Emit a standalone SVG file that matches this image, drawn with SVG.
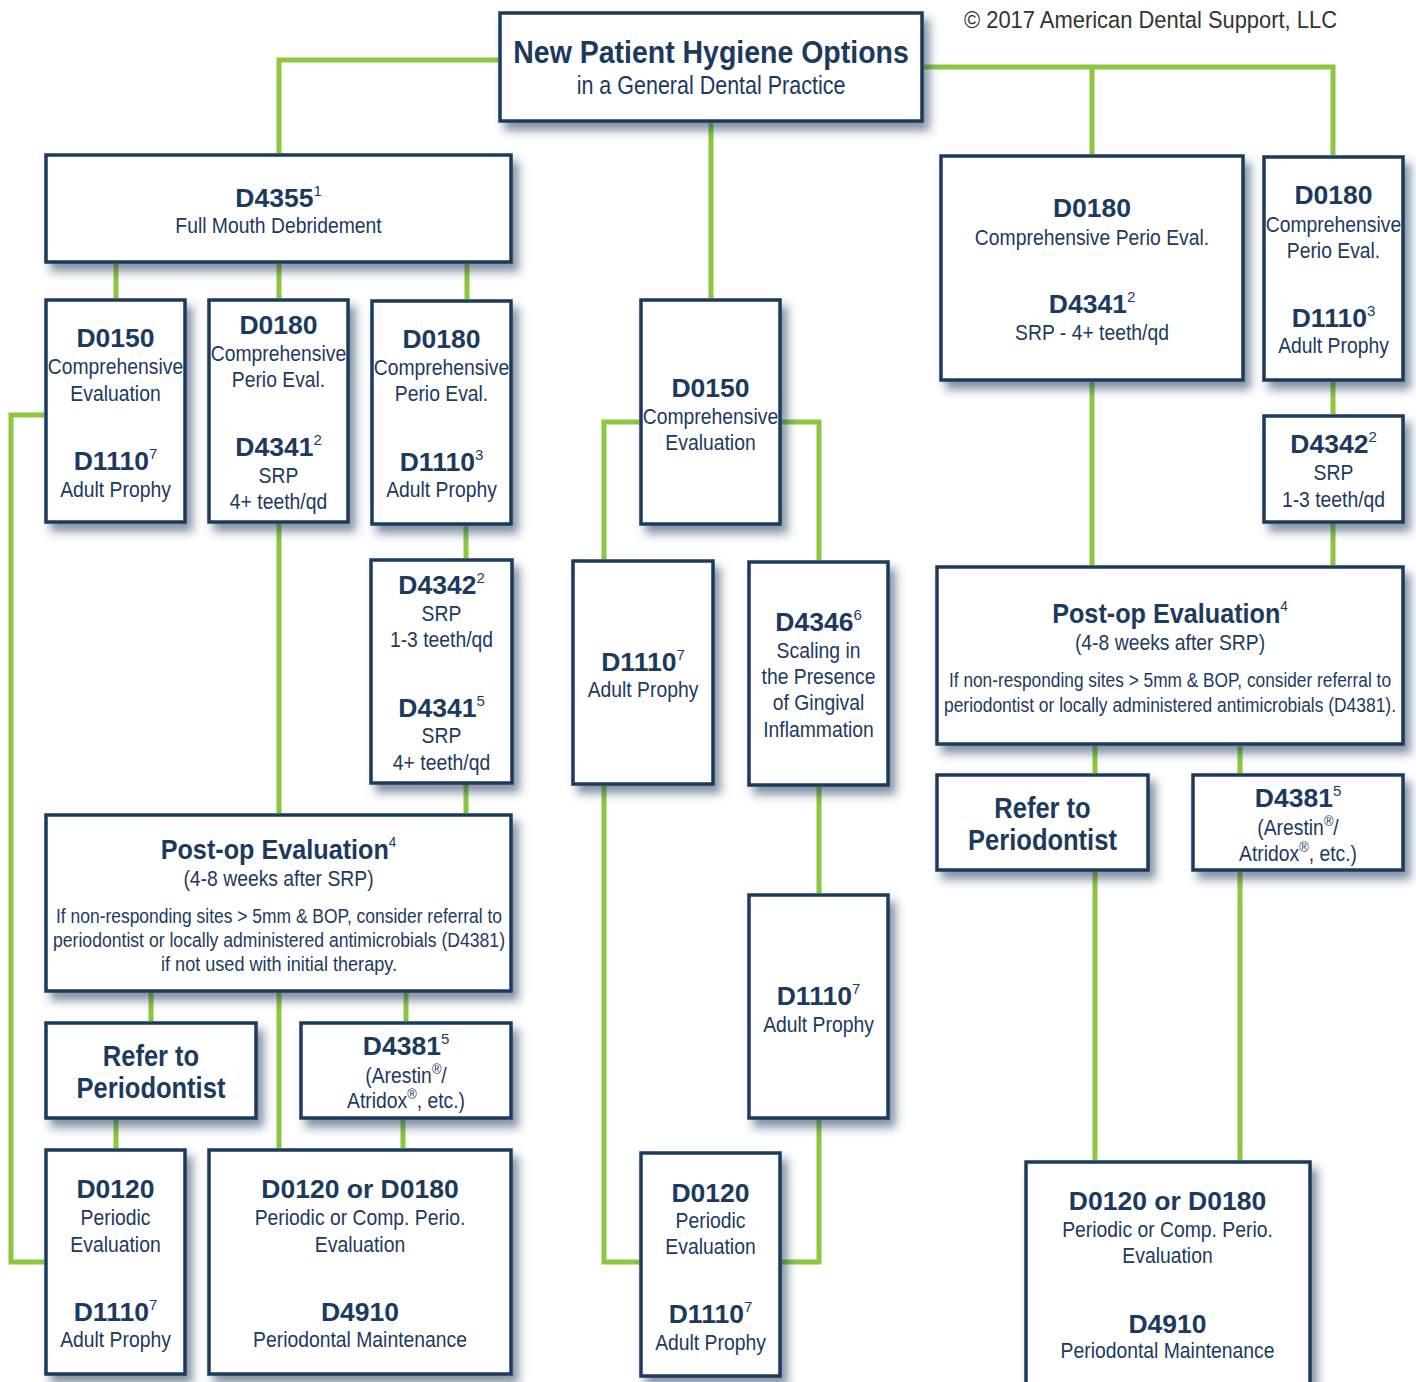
<svg xmlns="http://www.w3.org/2000/svg" width="1416" height="1382" viewBox="0 0 1416 1382">
<defs>
<filter id="sh" x="-20%" y="-20%" width="150%" height="150%">
<feDropShadow dx="6" dy="8" stdDeviation="5" flood-color="#1d3a5c" flood-opacity="0.55"/>
</filter>
<style>
.box{fill:#fff;stroke:#1d3a5c;stroke-width:3.5;filter:url(#sh)}
.con{fill:none;stroke:#8dc63f;stroke-width:5}
text{font-family:"Liberation Sans",Arial,sans-serif;fill:#1c3a5e;text-anchor:middle}
.c{font-weight:bold;font-size:26.5px}
.r{font-size:22.5px}
.h{font-weight:bold;font-size:28px}
.rf{font-weight:bold;font-size:29px}
.bd{font-size:20.5px}
.s{font-size:15px;font-weight:normal}
</style>
</defs>
<rect width="1416" height="1382" fill="#fff"/>
<text x="964" y="28" style="text-anchor:start;font-size:24.5px;fill:#333" textLength="373" lengthAdjust="spacingAndGlyphs">© 2017 American Dental Support, LLC</text>
<g id="connectors">
<path class="con" d="M498 60 H279 V153"/>
<path class="con" d="M924 67 H1333 V155 M1092 67 V154"/>
<path class="con" d="M711 123 V298"/>
<path class="con" d="M116 264 V298 M279 264 V298 M467 264 V299"/>
<path class="con" d="M279 524 V813"/>
<path class="con" d="M466 526 V558 M466 784 V813"/>
<path class="con" d="M44 415 H11 V1262 H44"/>
<path class="con" d="M151 993 V1021 M279 993 V1148 M406 993 V1021"/>
<path class="con" d="M116 1120 V1148 M403 1120 V1148"/>
<path class="con" d="M639 422 H604 V559 M782 422 H819 V560"/>
<path class="con" d="M819 787 V893 M819 1120 V1262 H782 M604 786 V1262 H639"/>
<path class="con" d="M1092 382 V565 M1333 382 V414 M1333 524 V565"/>
<path class="con" d="M1095 746 V773 M1240 746 V773 M1095 872 V1160 M1240 872 V1160"/>
</g>
<g id="title">
<rect class="box" x="500" y="13" width="422" height="108"/>
<text transform="translate(711 0) scale(0.89 1)" y="63" style="font-weight:bold;font-size:32px">New Patient Hygiene Options</text>
<text transform="translate(711 0) scale(0.86 1)" y="94" style="font-size:25px">in a General Dental Practice</text>
</g>
<g id="d4355">
<rect class="box" x="46" y="155" width="465" height="107"/>
<text class="c" x="278.5" y="207">D4355<tspan class="s" dy="-11">1</tspan></text>
<text class="r" transform="translate(278.5 0) scale(0.86 1)" y="233">Full Mouth Debridement</text>
</g>
<g id="l-d0150">
<rect class="box" x="46" y="300" width="139" height="222"/>
<text class="c" x="115.5" y="347">D0150</text>
<text class="r" transform="translate(115.5 0) scale(0.86 1)" y="374">Comprehensive</text>
<text class="r" transform="translate(115.5 0) scale(0.86 1)" y="401">Evaluation</text>
<text class="c" x="115.5" y="470">D1110<tspan class="s" dy="-11">7</tspan></text>
<text class="r" transform="translate(115.5 0) scale(0.86 1)" y="497">Adult Prophy</text>
</g>
<g id="l-d0180a">
<rect class="box" x="209" y="300" width="139" height="222"/>
<text class="c" x="278.5" y="334">D0180</text>
<text class="r" transform="translate(278.5 0) scale(0.86 1)" y="361">Comprehensive</text>
<text class="r" transform="translate(278.5 0) scale(0.86 1)" y="387">Perio Eval.</text>
<text class="c" x="278.5" y="456">D4341<tspan class="s" dy="-11">2</tspan></text>
<text class="r" transform="translate(278.5 0) scale(0.86 1)" y="483">SRP</text>
<text class="r" transform="translate(278.5 0) scale(0.86 1)" y="509">4+ teeth/qd</text>
</g>
<g id="l-d0180b">
<rect class="box" x="372" y="301" width="139" height="223"/>
<text class="c" x="441.5" y="348">D0180</text>
<text class="r" transform="translate(441.5 0) scale(0.86 1)" y="375">Comprehensive</text>
<text class="r" transform="translate(441.5 0) scale(0.86 1)" y="401">Perio Eval.</text>
<text class="c" x="441.5" y="471">D1110<tspan class="s" dy="-11">3</tspan></text>
<text class="r" transform="translate(441.5 0) scale(0.86 1)" y="497">Adult Prophy</text>
</g>
<g id="l-d4342">
<rect class="box" x="371" y="560" width="141" height="223"/>
<text class="c" x="441.5" y="594">D4342<tspan class="s" dy="-11">2</tspan></text>
<text class="r" transform="translate(441.5 0) scale(0.86 1)" y="621">SRP</text>
<text class="r" transform="translate(441.5 0) scale(0.86 1)" y="647">1-3 teeth/qd</text>
<text class="c" x="441.5" y="717">D4341<tspan class="s" dy="-11">5</tspan></text>
<text class="r" transform="translate(441.5 0) scale(0.86 1)" y="743">SRP</text>
<text class="r" transform="translate(441.5 0) scale(0.86 1)" y="770">4+ teeth/qd</text>
</g>
<g id="l-postop">
<rect class="box" x="46" y="815" width="465" height="176"/>
<text class="h" transform="translate(278.5 0) scale(0.9 1)" y="859">Post-op Evaluation<tspan class="s" dy="-12">4</tspan></text>
<text class="r" transform="translate(278.5 0) scale(0.86 1)" y="886">(4-8 weeks after SRP)</text>
<text class="bd" x="279" y="923" textLength="446" lengthAdjust="spacingAndGlyphs">If non-responding sites &gt; 5mm &amp; BOP, consider referral to</text>
<text class="bd" x="279" y="947" textLength="452" lengthAdjust="spacingAndGlyphs">periodontist or locally administered antimicrobials (D4381)</text>
<text class="bd" x="279" y="971" textLength="236" lengthAdjust="spacingAndGlyphs">if not used with initial therapy.</text>
</g>
<g id="l-refer">
<rect class="box" x="46" y="1023" width="210" height="95"/>
<text class="rf" transform="translate(151 0) scale(0.88 1)" y="1066">Refer to</text>
<text class="rf" transform="translate(151 0) scale(0.88 1)" y="1098">Periodontist</text>
</g>
<g id="l-d4381">
<rect class="box" x="301" y="1023" width="210" height="95"/>
<text class="c" x="406" y="1055">D4381<tspan class="s" dy="-11">5</tspan></text>
<text class="r" transform="translate(406 0) scale(0.86 1)" y="1083">(Arestin<tspan class="s" dy="-9">®</tspan><tspan dy="9">/</tspan></text>
<text class="r" transform="translate(406 0) scale(0.86 1)" y="1108">Atridox<tspan class="s" dy="-9">®</tspan><tspan dy="9">, etc.)</tspan></text>
</g>
<g id="l-d0120">
<rect class="box" x="46" y="1150" width="139" height="224"/>
<text class="c" x="115.5" y="1198">D0120</text>
<text class="r" transform="translate(115.5 0) scale(0.86 1)" y="1225">Periodic</text>
<text class="r" transform="translate(115.5 0) scale(0.86 1)" y="1252">Evaluation</text>
<text class="c" x="115.5" y="1321">D1110<tspan class="s" dy="-11">7</tspan></text>
<text class="r" transform="translate(115.5 0) scale(0.86 1)" y="1347">Adult Prophy</text>
</g>
<g id="l-d0120or">
<rect class="box" x="209" y="1150" width="302" height="224"/>
<text class="c" x="360" y="1198">D0120 or D0180</text>
<text class="r" transform="translate(360 0) scale(0.86 1)" y="1225">Periodic or Comp. Perio.</text>
<text class="r" transform="translate(360 0) scale(0.86 1)" y="1252">Evaluation</text>
<text class="c" x="360" y="1321">D4910</text>
<text class="r" transform="translate(360 0) scale(0.86 1)" y="1347">Periodontal Maintenance</text>
</g>
<g id="c-d0150">
<rect class="box" x="641" y="300" width="139" height="224"/>
<text class="c" x="710.5" y="397">D0150</text>
<text class="r" transform="translate(710.5 0) scale(0.86 1)" y="424">Comprehensive</text>
<text class="r" transform="translate(710.5 0) scale(0.86 1)" y="450">Evaluation</text>
</g>
<g id="c-d1110a">
<rect class="box" x="573" y="561" width="140" height="223"/>
<text class="c" x="643" y="671">D1110<tspan class="s" dy="-11">7</tspan></text>
<text class="r" transform="translate(643 0) scale(0.86 1)" y="697">Adult Prophy</text>
</g>
<g id="c-d4346">
<rect class="box" x="749" y="562" width="139" height="223"/>
<text class="c" x="818.5" y="631">D4346<tspan class="s" dy="-11">6</tspan></text>
<text class="r" transform="translate(818.5 0) scale(0.86 1)" y="658">Scaling in</text>
<text class="r" transform="translate(818.5 0) scale(0.86 1)" y="684">the Presence</text>
<text class="r" transform="translate(818.5 0) scale(0.86 1)" y="710">of Gingival</text>
<text class="r" transform="translate(818.5 0) scale(0.86 1)" y="737">Inflammation</text>
</g>
<g id="c-d1110b">
<rect class="box" x="749" y="895" width="139" height="223"/>
<text class="c" x="818.5" y="1005">D1110<tspan class="s" dy="-11">7</tspan></text>
<text class="r" transform="translate(818.5 0) scale(0.86 1)" y="1032">Adult Prophy</text>
</g>
<g id="c-d0120">
<rect class="box" x="641" y="1153" width="139" height="223"/>
<text class="c" x="710.5" y="1202">D0120</text>
<text class="r" transform="translate(710.5 0) scale(0.86 1)" y="1228">Periodic</text>
<text class="r" transform="translate(710.5 0) scale(0.86 1)" y="1254">Evaluation</text>
<text class="c" x="710.5" y="1323">D1110<tspan class="s" dy="-11">7</tspan></text>
<text class="r" transform="translate(710.5 0) scale(0.86 1)" y="1350">Adult Prophy</text>
</g>
<g id="r-d0180big">
<rect class="box" x="941" y="156" width="302" height="224"/>
<text class="c" x="1092" y="217">D0180</text>
<text class="r" transform="translate(1092 0) scale(0.86 1)" y="245">Comprehensive Perio Eval.</text>
<text class="c" x="1092" y="313">D4341<tspan class="s" dy="-11">2</tspan></text>
<text class="r" transform="translate(1092 0) scale(0.86 1)" y="340">SRP - 4+ teeth/qd</text>
</g>
<g id="r-d0180s">
<rect class="box" x="1264" y="157" width="139" height="223"/>
<text class="c" x="1333.5" y="204">D0180</text>
<text class="r" transform="translate(1333.5 0) scale(0.86 1)" y="232">Comprehensive</text>
<text class="r" transform="translate(1333.5 0) scale(0.86 1)" y="258">Perio Eval.</text>
<text class="c" x="1333.5" y="327">D1110<tspan class="s" dy="-11">3</tspan></text>
<text class="r" transform="translate(1333.5 0) scale(0.86 1)" y="353">Adult Prophy</text>
</g>
<g id="r-d4342">
<rect class="box" x="1264" y="416" width="139" height="106"/>
<text class="c" x="1333.5" y="453">D4342<tspan class="s" dy="-11">2</tspan></text>
<text class="r" transform="translate(1333.5 0) scale(0.86 1)" y="480">SRP</text>
<text class="r" transform="translate(1333.5 0) scale(0.86 1)" y="507">1-3 teeth/qd</text>
</g>
<g id="r-postop">
<rect class="box" x="937" y="567" width="466" height="177"/>
<text class="h" transform="translate(1170 0) scale(0.9 1)" y="623">Post-op Evaluation<tspan class="s" dy="-12">4</tspan></text>
<text class="r" transform="translate(1170 0) scale(0.86 1)" y="650">(4-8 weeks after SRP)</text>
<text class="bd" x="1170" y="687" textLength="442" lengthAdjust="spacingAndGlyphs">If non-responding sites &gt; 5mm &amp; BOP, consider referral to</text>
<text class="bd" x="1170" y="712" textLength="452" lengthAdjust="spacingAndGlyphs">periodontist or locally administered antimicrobials (D4381).</text>
</g>
<g id="r-refer">
<rect class="box" x="937" y="775" width="211" height="95"/>
<text class="rf" transform="translate(1042.5 0) scale(0.88 1)" y="818">Refer to</text>
<text class="rf" transform="translate(1042.5 0) scale(0.88 1)" y="850">Periodontist</text>
</g>
<g id="r-d4381">
<rect class="box" x="1193" y="775" width="210" height="95"/>
<text class="c" x="1298" y="807">D4381<tspan class="s" dy="-11">5</tspan></text>
<text class="r" transform="translate(1298 0) scale(0.86 1)" y="835">(Arestin<tspan class="s" dy="-9">®</tspan><tspan dy="9">/</tspan></text>
<text class="r" transform="translate(1298 0) scale(0.86 1)" y="861">Atridox<tspan class="s" dy="-9">®</tspan><tspan dy="9">, etc.)</tspan></text>
</g>
<g id="r-d0120or">
<rect class="box" x="1026" y="1162" width="284" height="240"/>
<text class="c" x="1167.5" y="1210">D0120 or D0180</text>
<text class="r" transform="translate(1167.5 0) scale(0.86 1)" y="1237">Periodic or Comp. Perio.</text>
<text class="r" transform="translate(1167.5 0) scale(0.86 1)" y="1263">Evaluation</text>
<text class="c" x="1167.5" y="1333">D4910</text>
<text class="r" transform="translate(1167.5 0) scale(0.86 1)" y="1358">Periodontal Maintenance</text>
</g>
</svg>
